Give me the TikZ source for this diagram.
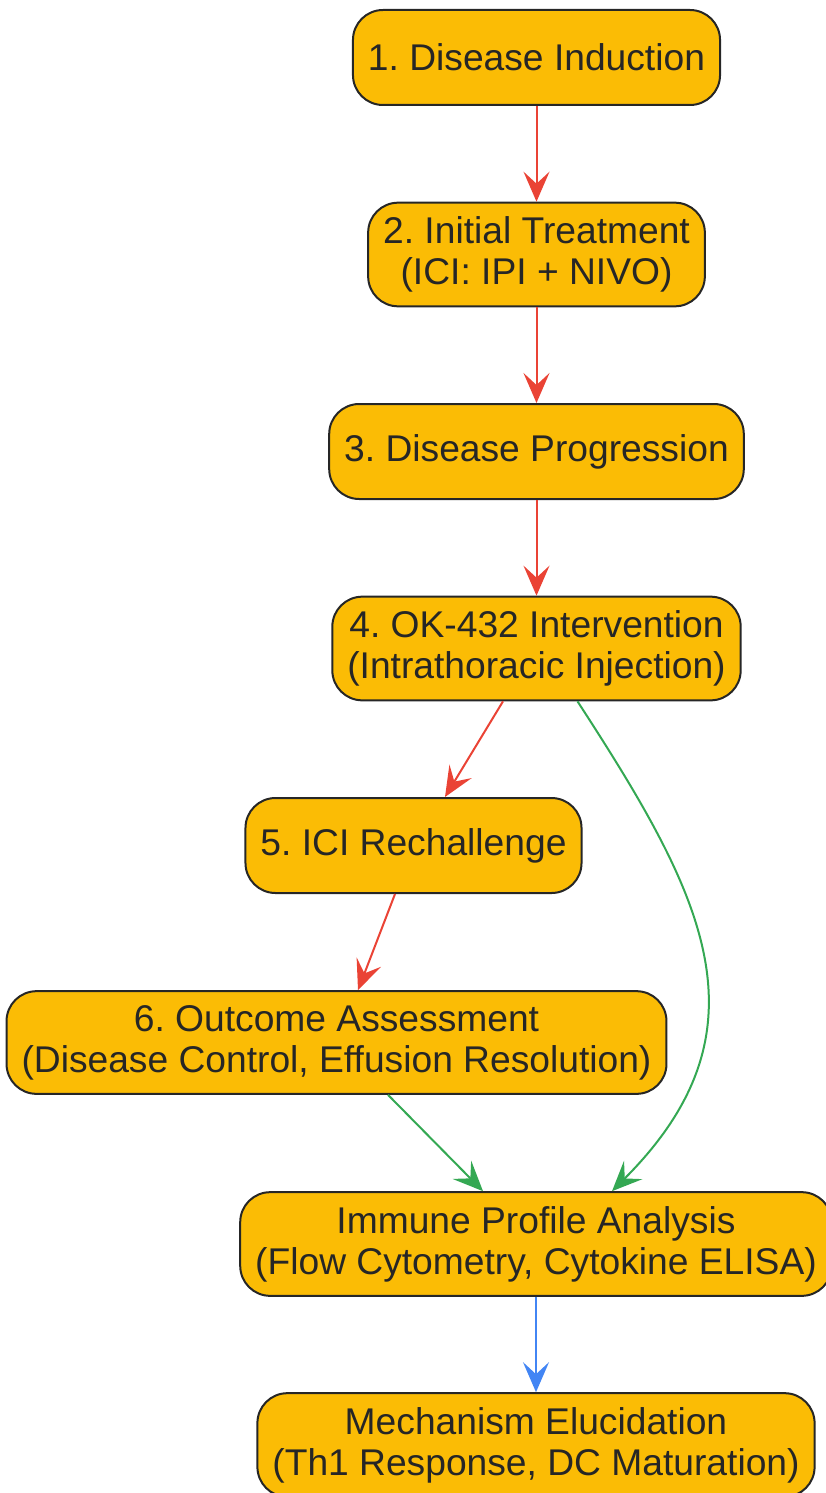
\documentclass[tikz,border=0pt]{standalone}
\usepackage{fontspec}
\setmainfont{Liberation Sans}
\frenchspacing
\usetikzlibrary{arrows.meta}
\definecolor{stagefill}{HTML}{FBBC05}
\definecolor{ink}{HTML}{262626}
\definecolor{flowred}{HTML}{EA4335}
\definecolor{flowgreen}{HTML}{34A853}
\definecolor{flowblue}{HTML}{4285F4}
\tikzset{
node distance=98.5pt,
stage/.style={draw=ink, fill=stagefill, text=ink, line width=1pt, rounded corners=15pt,
  align=center, minimum height=47.5pt, inner xsep=7.5pt, inner ysep=7pt,
  font=\fontsize{18.6pt}{20.5pt}\selectfont},
flow/.style={-{Stealth[length=15pt,width=13pt,inset=6pt]}, line width=1pt},
redflow/.style={flow, draw=flowred, fill=flowred},
greenflow/.style={flow, draw=flowgreen, fill=flowgreen},
blueflow/.style={flow, draw=flowblue, fill=flowblue},
}

\begin{document}
\begin{tikzpicture}
        \useasboundingbox (0,0) rectangle (412.5pt,-746.5pt);
        \node[stage] (n1) at (268.25pt,-28.75pt) {1. Disease Induction};
        \node[stage,below of=n1] (n2) {2. Initial Treatment\\(ICI: IPI + NIVO)};
        \node[stage,below of=n2] (n3) {3. Disease Progression};
        \node[stage,below of=n3] (n4) {4. OK-432 Intervention\\(Intrathoracic Injection)};
        \node[stage,below of=n4,xshift=-61.5pt] (n5) {5. ICI Rechallenge};
        \node[stage,below of=n5,xshift=-38.5pt] (n6) {6. Outcome Assessment\\(Disease Control, Effusion Resolution)};
        \node[stage,below of=n6,xshift=99.75pt,yshift=-2.25pt] (n7) {Immune Profile Analysis\\(Flow Cytometry, Cytokine ELISA)};
        \node[stage,below of=n7,yshift=-2pt] (n8) {Mechanism Elucidation\\(Th1 Response, DC Maturation)};
    
        \draw[redflow] (n1) -- (n2);
        \draw[redflow] (n2) -- (n3);
        \draw[redflow] (n3) -- (n4);
        \draw[redflow] ([xshift=-16.75pt]n4.south) -- ([xshift=15.75pt]n5.north);
        \draw[greenflow, fill=none] ([xshift=20.5pt]n4.south) to[out=-57,in=45,looseness=1.2] ([xshift=38pt]n7.north);
        \draw[redflow] ([xshift=-9.25pt]n5.south) -- ([xshift=10.75pt]n6.north);
        \draw[greenflow] ([xshift=25.75pt]n6.south) -- ([xshift=-26.5pt]n7.north);
        \draw[blueflow] (n7) -- (n8);
    \end{tikzpicture}
\end{document}
